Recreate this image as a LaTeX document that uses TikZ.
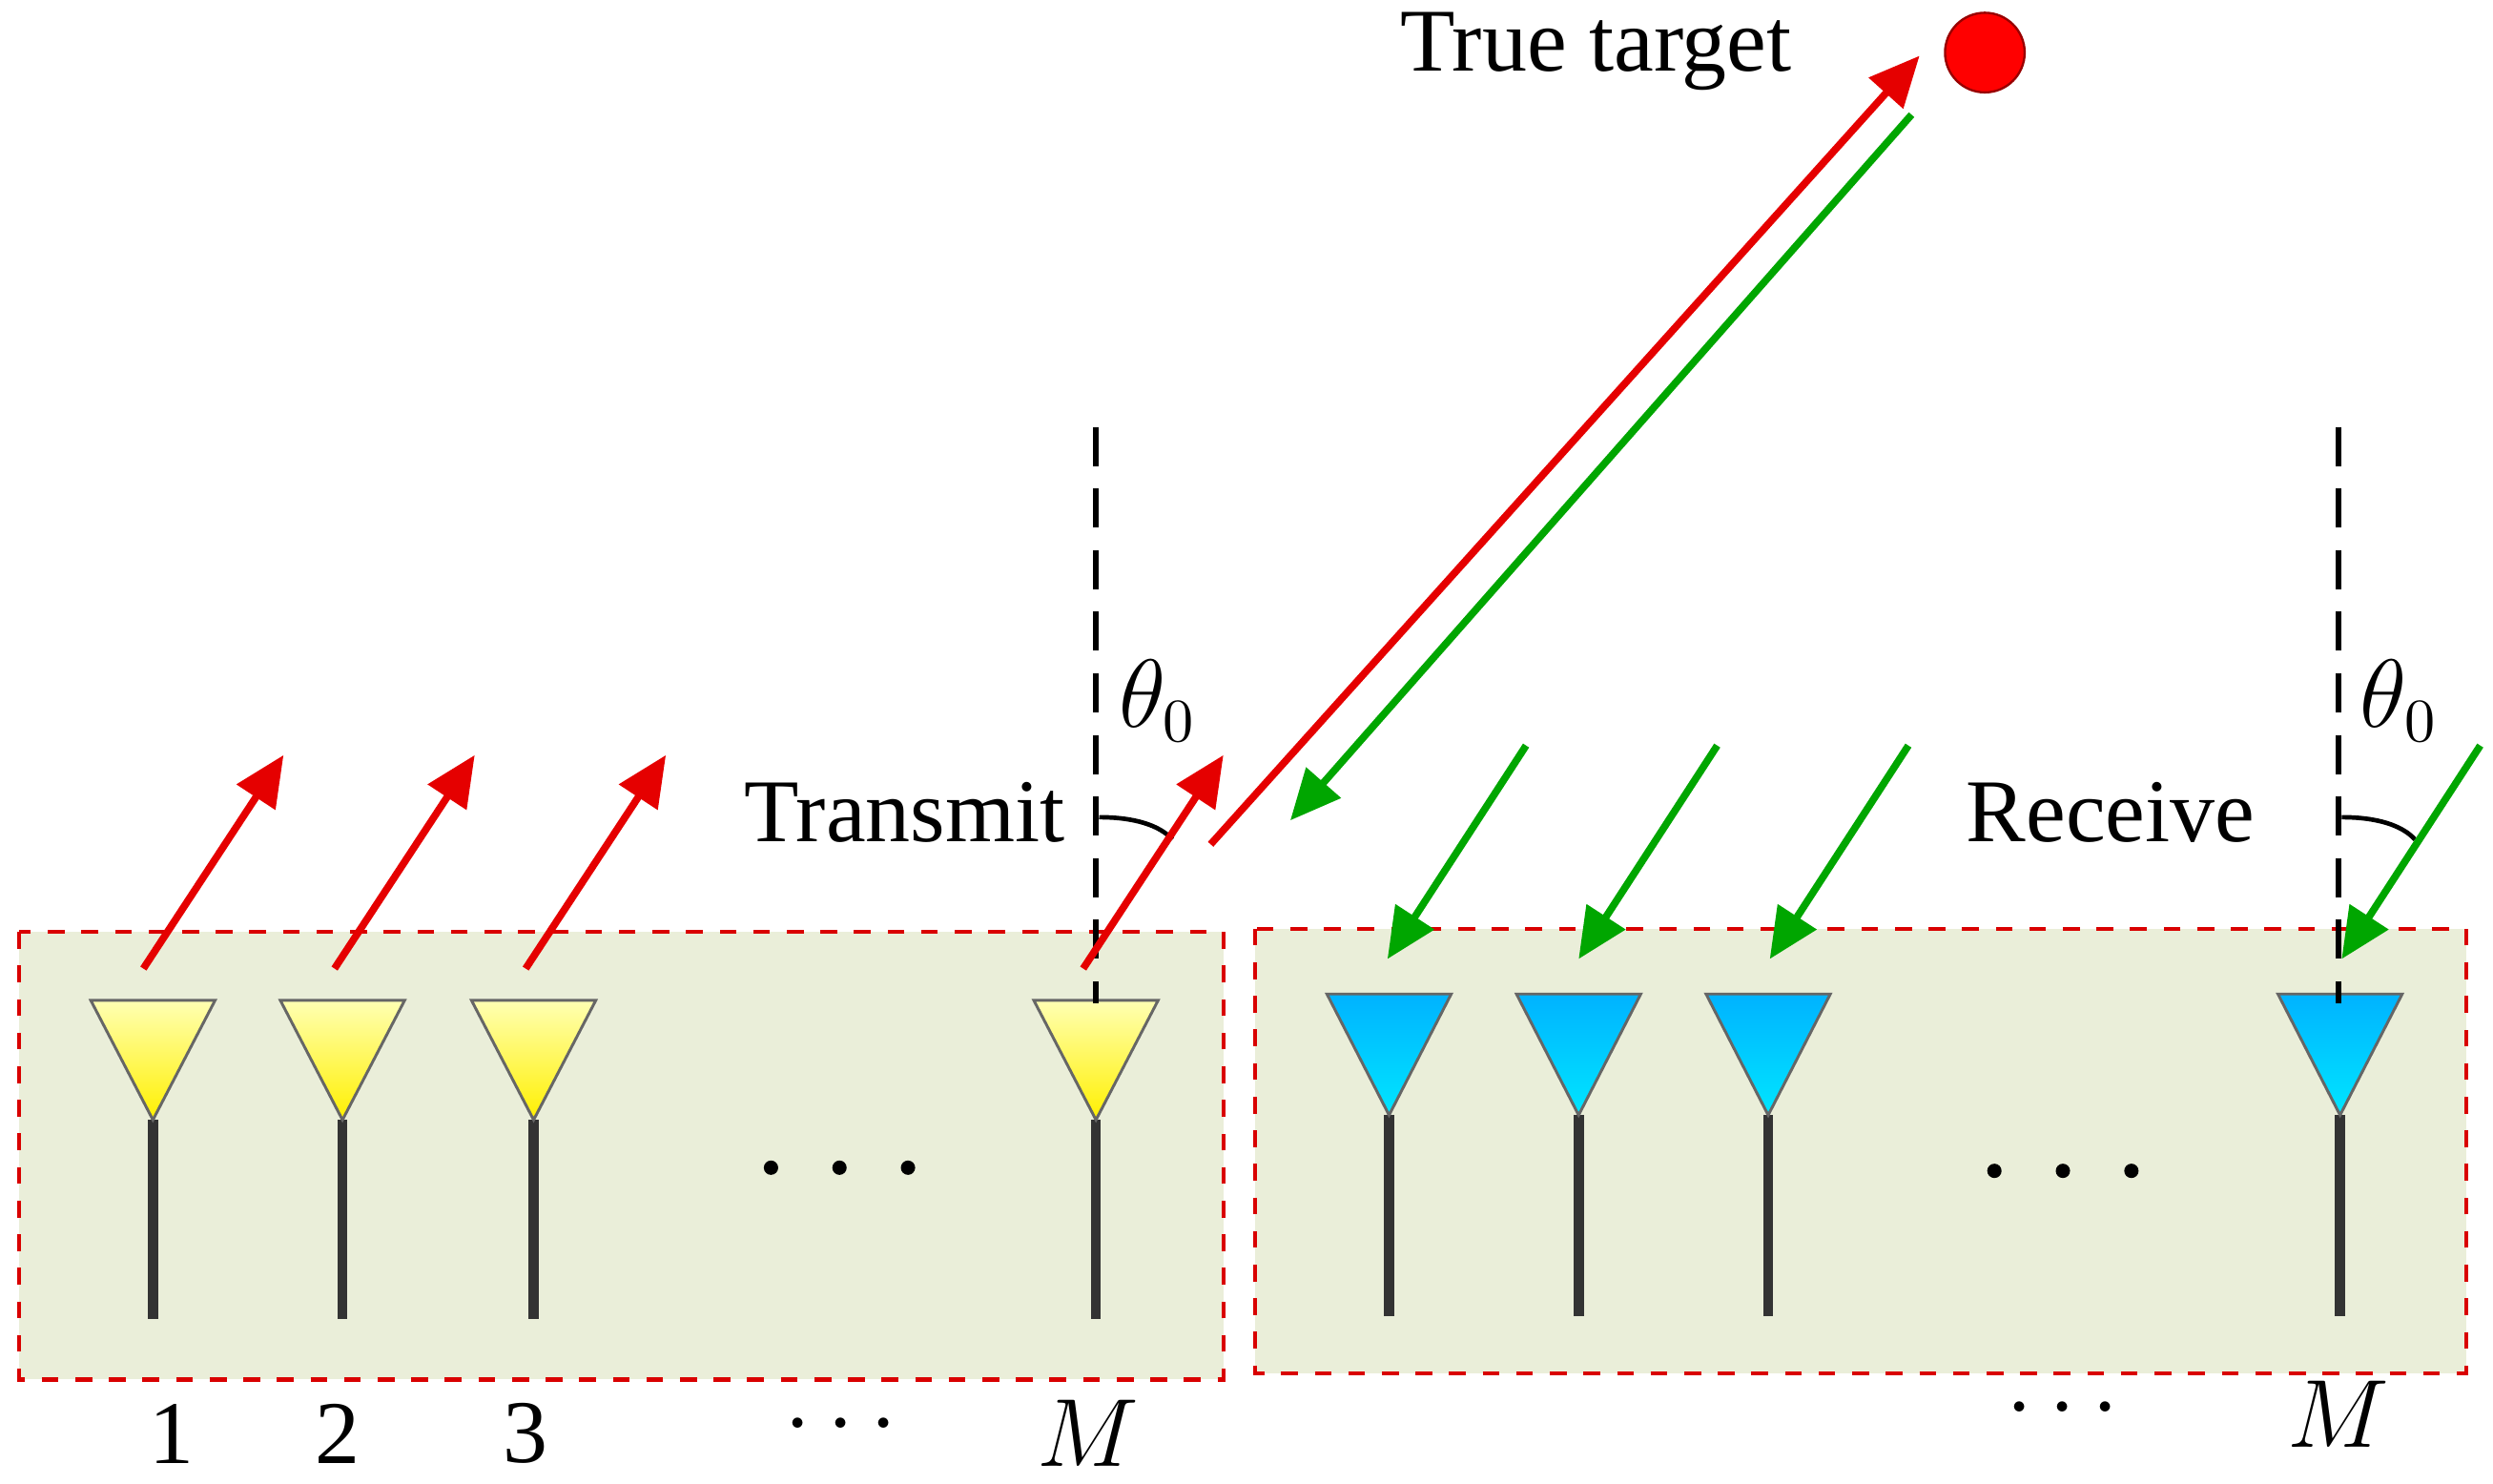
\documentclass[tikz,border=0pt]{standalone}
\usepackage{fontspec}
\setmainfont{Liberation Serif}
\usetikzlibrary{arrows.meta}
\begin{document}
\begin{tikzpicture}[x=0.1mm,y=-0.1mm,
  panel/.style={draw=red!85!black,dashed,fill=green!10!olive!15!white,line width=0.7pt},
  stem/.style={line width=1.8pt,draw=black!80},
  tx/.style={draw=black!60,top color=yellow!30!white,bottom color=yellow!85!orange!80!yellow,line width=0.5pt},
  rx/.style={draw=black!60,top color=cyan!70!blue,bottom color=cyan!90!blue,line width=0.5pt},
  rarr/.style={draw=red!90!black,line width=1.3pt,-{Triangle[length=9pt,width=8pt]}},
  garr/.style={draw=green!65!black,line width=1.3pt,-{Triangle[length=9pt,width=8pt]}},
  lbl/.style={font=\fontsize{16}{19}\selectfont},
  vdash/.style={dashed,line width=1pt,dash pattern=on 7pt off 4pt}]
\useasboundingbox (0,0) rectangle (1565,931);
\fill[white] (0,0) rectangle (1565,931);
\draw[panel] (12,585) rectangle (768,866);
\draw[panel] (788,583) rectangle (1548,862);
\foreach \x in {96,215,335,688}{
  \draw[stem] (\x,703) -- (\x,828);
  \draw[tx] (\x-39,628) -- (\x+39,628) -- (\x,703) -- cycle;
}
\foreach \x in {872,991,1110,1469}{
  \draw[stem] (\x,700) -- (\x,826);
  \draw[rx] (\x-39,624) -- (\x+39,624) -- (\x,700) -- cycle;
}
\foreach \x in {484,527,570}{\fill (\x,733) circle (4.5);}
\foreach \x in {1252,1295,1338}{\fill (\x,735) circle (4.5);}
\node[lbl] (n1) at (108,900) {1};
\node[lbl] (n2) at (212,900) {2};
\node[lbl] (n3) at (330,900) {3};
\node[lbl] (ld) at (528,895) {$\cdots$};
\node[lbl] (lm) at (683,900) {$M$};
\node[lbl] (rd) at (1295,885) {$\cdots$};
\node[lbl] (rm) at (1468,888) {$M$};
\draw[vdash] (688,268) -- (688,630);
\draw[vdash] (1468,268) -- (1468,630);
\node[lbl] (th1) at (727,440) {$\theta_0$};
\node[lbl] (th2) at (1506,440) {$\theta_0$};
\draw[line width=0.8pt] (690,513) .. controls (712,513) and (728,518) .. (736,527);
\draw[line width=0.8pt] (1470,513) .. controls (1492,513) and (1508,518) .. (1516,527);
\node[lbl] (trans) at (568,510) {Transmit};
\node[lbl] (recv) at (1325,510) {Receive};
\foreach \x in {90,210,330,680}{\draw[rarr] (\x,608) -- (\x+88,474);}
\foreach \x in {958,1078,1198,1557}{\draw[garr] (\x,468) -- (\x-87,602);}
\draw[fill=red,draw=red!60!black] (1246,33) circle (25);
\node[lbl] (tt) at (1002,32) {True target};
\coordinate (ps) at (760,530);
\coordinate (pe) at (1205,35);
\draw[rarr] (ps) -- (pe);
\coordinate (gs) at (1200,72);
\coordinate (ge) at (810,515);
\draw[garr] (gs) -- (ge);
\end{tikzpicture}
\end{document}
